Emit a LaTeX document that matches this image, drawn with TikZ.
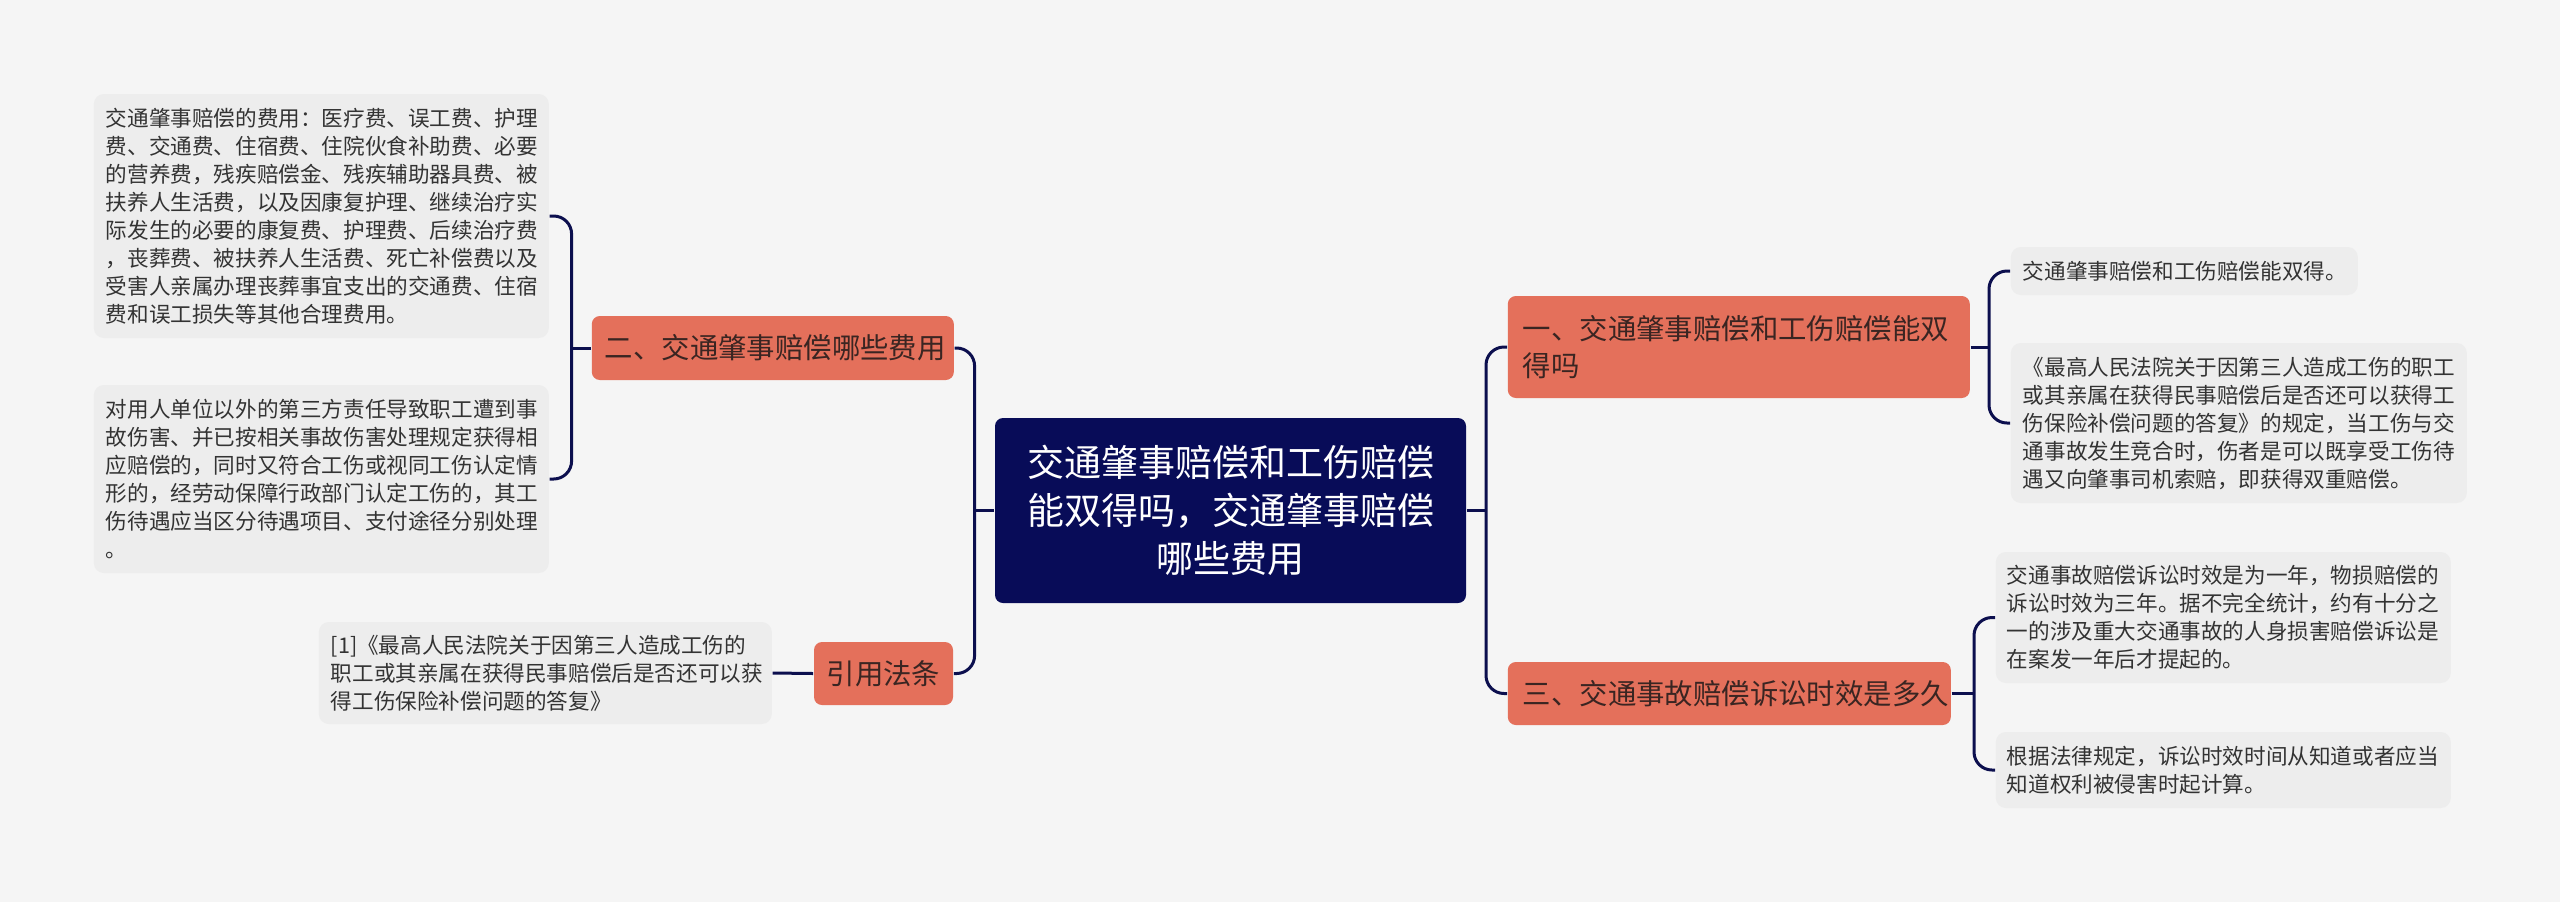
\documentclass[tikz,border=0pt]{standalone}
\usepackage{fontspec}
\setmainfont{Noto Sans CJK SC}
\definecolor{bgc}{HTML}{F5F5F5}
\definecolor{navy}{HTML}{080C58}
\definecolor{linec}{HTML}{0C0F4E}
\definecolor{salmon}{HTML}{E4705B}
\definecolor{leaffill}{HTML}{EDEDED}
\definecolor{topictext}{HTML}{3A2522}
\definecolor{leaftext}{HTML}{333333}
\tikzset{
  rootbox/.style={fill=navy, text=white, rounded corners=2pt, align=center, inner sep=0pt,
    font=\fontsize{9.25pt}{12pt}\selectfont},
  topicbox/.style={fill=salmon, text=topictext, rounded corners=2pt, inner ysep=0pt,
    font=\fontsize{7.1pt}{9.4pt}\selectfont},
  leafbox/.style={fill=leaffill, text=leaftext, rounded corners=2.5pt, inner ysep=0pt, align=left,
    font=\fontsize{5.4pt}{7pt}\selectfont},
  conn/.style={draw=linec, line width=0.75pt, rounded corners=4.5pt},
}
\begin{document}
\begin{tikzpicture}[x=0.25pt,y=-0.25pt]
\fill[bgc] (0,0) rectangle (2560,902);
\useasboundingbox (0,0) rectangle (2560,902);

% root
\node[rootbox, minimum width=117.75pt, minimum height=46.25pt] (root) at (1230.5,510.5)
  {交通肇事赔偿和工伤赔偿\\能双得吗，交通肇事赔偿\\哪些费用};

% topics
\node[topicbox, anchor=west, minimum width=90.5pt, minimum height=16pt, inner xsep=3.25pt,
  text width=84pt, align=left] (n2) at (591,348) {二、交通肇事赔偿哪些费用};
\node[topicbox, minimum width=34.75pt, minimum height=15.75pt, inner xsep=0pt, align=center]
  (n4) at (883.5,673.5) {引用法条};
\node[topicbox, anchor=west, minimum width=115.5pt, minimum height=25.5pt, inner xsep=3.75pt,
  text width=108pt, align=left] (n1) at (1507,347) {一、交通肇事赔偿和工伤赔偿能双\\得吗};
\node[topicbox, anchor=west, minimum width=110.75pt, minimum height=15.75pt, inner xsep=3.75pt,
  text width=103.25pt, align=left] (n3) at (1507,693.5) {三、交通事故赔偿诉讼时效是多久};

% left leaves
\node[leafbox, anchor=west, minimum width=113.75pt, minimum height=61pt, inner xsep=3pt,
  text width=107.75pt] (l2a) at (93,216)
  {交通肇事赔偿的费用：医疗费、误工费、护理\\费、交通费、住宿费、住院伙食补助费、必要\\的营养费，残疾赔偿金、残疾辅助器具费、被\\扶养人生活费，以及因康复护理、继续治疗实\\际发生的必要的康复费、护理费、后续治疗费\\，丧葬费、被扶养人生活费、死亡补偿费以及\\受害人亲属办理丧葬事宜支出的交通费、住宿\\费和误工损失等其他合理费用。};
\node[leafbox, anchor=west, minimum width=113.75pt, minimum height=47pt, inner xsep=3pt,
  text width=107.75pt] (l2b) at (93,479)
  {对用人单位以外的第三方责任导致职工遭到事\\故伤害、并已按相关事故伤害处理规定获得相\\应赔偿的，同时又符合工伤或视同工伤认定情\\形的，经劳动保障行政部门认定工伤的，其工\\伤待遇应当区分待遇项目、支付途径分别处理\\。};
\node[leafbox, anchor=west, minimum width=113.25pt, minimum height=25.5pt, inner xsep=3pt,
  text width=107.25pt] (l4) at (318,673)
  {[1]《最高人民法院关于因第三人造成工伤的\\职工或其亲属在获得民事赔偿后是否还可以获\\得工伤保险补偿问题的答复》};

% right leaves
\node[leafbox, anchor=west, minimum width=86.75pt, minimum height=12pt, inner xsep=3pt,
  text width=80.75pt] (r1a) at (2010,271) {交通肇事赔偿和工伤赔偿能双得。};
\node[leafbox, anchor=west, minimum width=114pt, minimum height=40pt, inner xsep=3pt,
  text width=108pt] (r1b) at (2010,423)
  {《最高人民法院关于因第三人造成工伤的职工\\或其亲属在获得民事赔偿后是否还可以获得工\\伤保险补偿问题的答复》的规定，当工伤与交\\通事故发生竞合时，伤者是可以既享受工伤待\\遇又向肇事司机索赔，即获得双重赔偿。};
\node[leafbox, anchor=west, minimum width=113.75pt, minimum height=32.75pt, inner xsep=2.75pt,
  text width=108.25pt] (r3a) at (1995,617.5)
  {交通事故赔偿诉讼时效是为一年，物损赔偿的\\诉讼时效为三年。据不完全统计，约有十分之\\一的涉及重大交通事故的人身损害赔偿诉讼是\\在案发一年后才提起的。};
\node[leafbox, anchor=west, minimum width=113.75pt, minimum height=19pt, inner xsep=2.75pt,
  text width=108.25pt] (r3b) at (1995,770)
  {根据法律规定，诉讼时效时间从知道或者应当\\知道权利被侵害时起计算。};

% junction coordinates
\coordinate (jl) at (973,510.5);
\coordinate (jll) at (570,348);
\coordinate (jr) at (1486,510.5);
\coordinate (jr1) at (1989,347);
\coordinate (jr3) at (1974,693.5);

% connectors
\draw[conn] (root.west) -- (jl);
\draw[conn] (n2.east) -- ++(20,0) |- (n4.east);
\draw[conn] (n2.west) -- (jll);
\draw[conn] (l2a.east) -- ++(22,0) |- (l2b.east);
\draw[conn] (n4.west) -- (l4.east);

\draw[conn] (root.east) -- (jr);
\draw[conn] (n1.west) -- ++(-21,0) |- (n3.west);
\draw[conn] (n1.east) -- (jr1);
\draw[conn] (r1a.west) -- ++(-21,0) |- (r1b.west);
\draw[conn] (n3.east) -- (jr3);
\draw[conn] (r3a.west) -- ++(-21,0) |- (r3b.west);
\end{tikzpicture}
\end{document}
